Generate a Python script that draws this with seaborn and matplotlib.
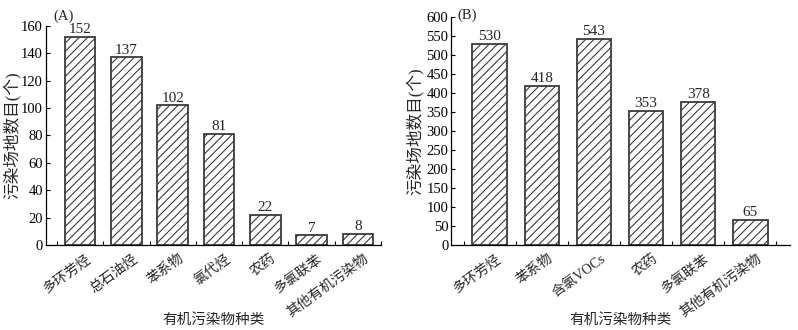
import numpy as np
import pandas as pd
import seaborn as sns
import matplotlib
matplotlib.use("Agg")
import matplotlib.pyplot as plt
from matplotlib.ticker import FixedLocator

cats_a = ["多环芳烃", "总石油烃", "苯系物", "氯代烃", "农药", "多氯联苯", "其他有机污染物"]
vals_a = [152, 137, 102, 81, 22, 7, 8]
cats_b = ["多环芳烃", "苯系物", "含氯VOCs", "农药", "多氯联苯", "其他有机污染物"]
vals_b = [530, 418, 543, 353, 378, 65]

sns.set_theme(style="ticks")
FAM = ["Liberation Serif", "Noto Sans CJK SC"]
plt.rcParams["font.family"] = FAM
plt.rcParams["hatch.linewidth"] = 0.8
plt.rcParams["hatch.color"] = "black"

fig = plt.figure(figsize=(7.98, 3.30), dpi=100)
ax_a = fig.add_axes([0.0573, 0.2576, 0.4201, 0.6636])
ax_b = fig.add_axes([0.5652, 0.2576, 0.4248, 0.6899])


def draw(ax, cats, vals, ymax, ystep, xlim, tag, ylab_x, xlab_y, tag_pos):
    df = pd.DataFrame({"cat": cats, "val": vals})
    sns.barplot(data=df, x="cat", y="val", ax=ax, color="white", width=0.66,
                edgecolor="#3a3a3a", linewidth=1.3, saturation=1)
    for p in ax.patches:
        p.set_hatch("////")
        p.set_facecolor("white")
    for i, v in enumerate(vals):
        ax.text(i, v + ymax * 0.004, str(v), ha="center", va="bottom", fontsize=11)
    ax.set_ylim(0, ymax)
    ax.set_xlim(*xlim)
    ax.set_yticks(np.arange(0, ymax + 1, ystep))
    ax.tick_params(axis="y", direction="in", length=3, width=0.8, labelsize=10.5, pad=2, colors="black")
    ax.set_xticks(np.arange(len(cats)) + 0.12)
    ax.set_xticklabels(cats, rotation=36, ha="right", rotation_mode="anchor", fontsize=10)
    ax.tick_params(axis="x", which="major", length=0, pad=5)
    ax.xaxis.set_minor_locator(FixedLocator(np.arange(-0.5, len(cats) + 0.5, 1)))
    ax.tick_params(axis="x", which="minor", direction="in", length=3, width=0.8, color="black")
    for s in ["top", "right"]:
        ax.spines[s].set_visible(False)
    for s in ["left", "bottom"]:
        ax.spines[s].set_linewidth(0.9)
        ax.spines[s].set_color("black")
    ax.set_xlabel("有机污染物种类", fontsize=10.5)
    ax.xaxis.set_label_coords(0.5, xlab_y)
    ax.xaxis.label.set_va("center")
    ax.set_ylabel("污染场地数目(个)", fontsize=12)
    ax.yaxis.set_label_coords(ylab_x, 0.5)
    ax.yaxis.label.set_va("center")
    ax.text(tag_pos[0], tag_pos[1], tag, transform=ax.transAxes, ha="left", va="center", fontsize=10.5)


draw(ax_a, cats_a, vals_a, 160, 20, (-0.745, 6.5), "(A)", -0.102, -0.342, (0.022, 1.045))
draw(ax_b, cats_b, vals_b, 600, 50, (-0.74, 5.76), "(B)", -0.108, -0.329, (0.02, 1.01))

fig.savefig("out.png", dpi=100)
